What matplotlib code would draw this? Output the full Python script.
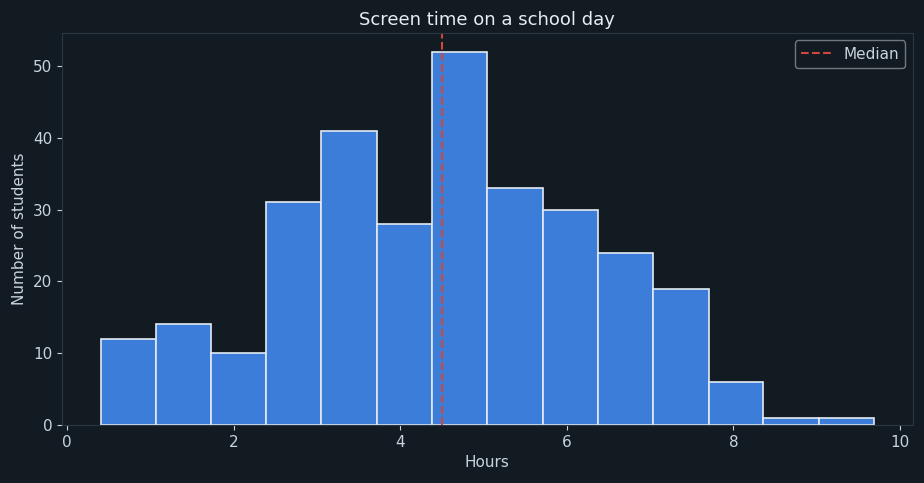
import matplotlib
matplotlib.use("Agg")
import matplotlib.pyplot as plt
import numpy as np

bin_edges = [0.40, 1.06, 1.73, 2.39, 3.05, 3.72, 4.38, 5.04, 5.71, 6.37, 7.03, 7.70, 8.36, 9.03, 9.69]
counts = [12, 14, 10, 31, 41, 28, 52, 33, 30, 24, 19, 6, 1, 1]
median_hours = 4.5

BG = "#121a22"
TEXT = "#c9d3de"
SPINE = "#2b3843"

fig, ax = plt.subplots(figsize=(9.24, 4.83), dpi=100)
fig.patch.set_facecolor(BG)
ax.set_facecolor(BG)

ax.hist(bin_edges[:-1], bins=bin_edges, weights=counts,
        color="#3b7dd8", edgecolor="#e4eaf2", linewidth=1.2)
ax.axvline(median_hours, color="#d0483b", linestyle="--", linewidth=1.5, label="Median")

ax.set_title("Screen time on a school day", color="#e8edf3", fontsize=13)
ax.set_xlabel("Hours", color=TEXT, fontsize=11)
ax.set_ylabel("Number of students", color=TEXT, fontsize=11)
ax.tick_params(colors=TEXT, labelsize=11)
for s in ax.spines.values():
    s.set_color(SPINE)

leg = ax.legend(loc="upper right", facecolor=BG, edgecolor="#8a9199", fontsize=11)
for t in leg.get_texts():
    t.set_color(TEXT)

fig.subplots_adjust(left=0.067, right=0.988, top=0.932, bottom=0.12)
fig.savefig("out.png", dpi=100, facecolor=BG)
